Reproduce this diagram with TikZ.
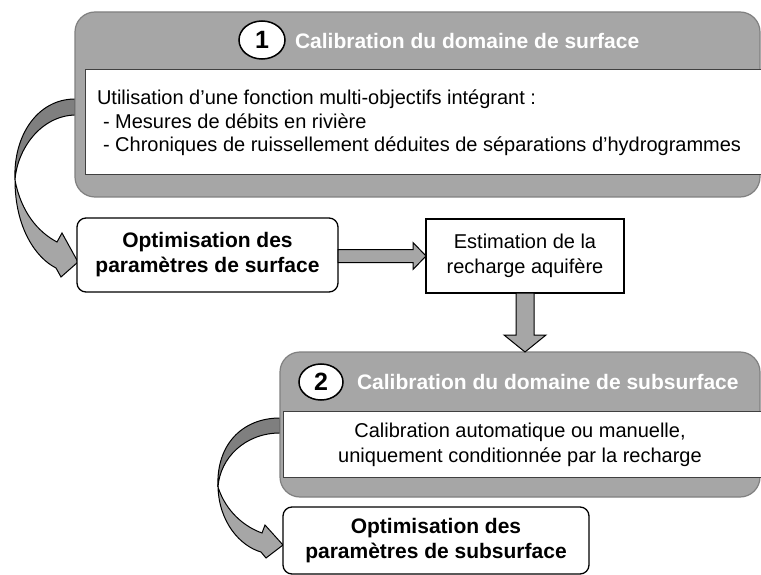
\documentclass[tikz,border=0pt]{standalone}
\usepackage{fontspec}
\setmainfont{Liberation Sans}
\usepackage{tikz}
\usetikzlibrary{calc,shapes.geometric,backgrounds}
\definecolor{boxgray}{HTML}{A6A6A6}
\definecolor{backgray}{HTML}{7F7F7F}
\definecolor{edgegray}{HTML}{808080}
\newcommand{\txtsize}{\fontsize{20}{25}\selectfont}
\newcommand{\boldsize}{\fontsize{21}{25}\selectfont}

\begin{document}
\begin{tikzpicture}[x=1pt, y=-1pt, every node/.style={inner sep=0pt, outer sep=0pt},
  calbox/.style={draw=edgegray, fill=boxgray, rounded corners=20pt, line width=1.2pt},
  inbox/.style={draw=black!75, fill=white, line width=0.8pt},
  numbox/.style={ellipse, draw, fill=white, line width=1.5pt, minimum width=46, minimum height=38, font=\bfseries\fontsize{25}{25}\selectfont},
  titlebox/.style={anchor=west, text=white, font=\bfseries\boldsize},
  stepbox/.style={draw, fill=white, line width=1.3pt, rounded corners=9pt, align=center, font=\bfseries\boldsize},
  arrowfill/.style={draw, fill=boxgray, line width=1pt, line join=miter}]
\useasboundingbox (0,0) rectangle (761,575);

% surface calibration
\node[calbox, minimum width=685, minimum height=185] (cal1) at (417.5,104.5) {};
\node[inbox, minimum width=676, minimum height=105] (in1) at (423,121.5) {};
\node[numbox] (num1) at (262,40) {1};
\node[titlebox] (title1) at (295,41) {Calibration du domaine de surface};
\node[anchor=west, align=left, font=\fontsize{20}{23.5}\selectfont] (body1) at (97,123) {Utilisation d’une fonction multi-objectifs intégrant :\\
  \hspace*{6pt}- Mesures de débits en rivière\\
  \hspace*{6pt}- Chroniques de ruissellement déduites de séparations d’hydrogrammes};

\node[stepbox, minimum width=261, minimum height=74] (opt1) at (207.5,255) {Optimisation des\\paramètres de surface};
\node[draw, fill=white, line width=1.3pt, align=center, font=\txtsize, minimum width=198, minimum height=74] (est) at (525,256) {Estimation de la\\recharge aquifère};

% subsurface calibration
\node[calbox, minimum width=480, minimum height=145] (cal2) at (520,424.5) {};
\node[inbox, minimum width=478, minimum height=66] (in2) at (522,444) {};
\node[numbox, minimum width=44, minimum height=36] (num2) at (321,382) {2};
\node[titlebox] (title2) at (357,382) {Calibration du domaine de subsurface};
\node[align=center, font=\txtsize] (body2) at (520,445) {Calibration automatique ou manuelle,\\uniquement conditionnée par la recharge};

\node[stepbox, minimum width=306, minimum height=67] (opt2) at (436,540.5) {Optimisation des\\paramètres de subsurface};

\begin{scope}[on background layer]
% curved arrow 1
\draw[arrowfill] (15,180) .. controls (15,228) and (36,258) .. (56,268) -- (61,277) -- ($(opt1.west)+(1,7)$) -- (62,233) -- (57,242) .. controls (38,232) and (21,212) .. (15,180) -- cycle;
\draw[arrowfill, fill=backgray] ($(cal1.west)+(0,-5.5)$) .. controls (38,99) and (13,135) .. (15,180) .. controls (17,150) and (40,116) .. ($(cal1.west)+(0,10.5)$) -- cycle;
% curved arrow 2
\draw[arrowfill] (218,487) .. controls (219,522) and (240,546) .. (261,552) -- (266,558) -- ($(opt2.west)+(0,4.5)$) -- (265,525) -- (262,533) .. controls (245,527) and (226,512) .. (218,487) -- cycle;
\draw[arrowfill, fill=backgray] ($(cal2.west)+(0,-6.5)$) .. controls (242,418) and (216,445) .. (218,487) .. controls (220,458) and (245,433) .. ($(cal2.west)+(0,8.5)$) -- cycle;
\end{scope}

% straight arrows
\draw[arrowfill] ($(opt1.east |- est.west)+(0,-6.5)$) -- ($(est.west)+(-13,-6.5)$) -- ($(est.west)+(-13,-13.5)$) -- (est.west) -- ($(est.west)+(-13,13.5)$) -- ($(est.west)+(-13,6.5)$) -- ($(opt1.east |- est.west)+(0,6.5)$) -- cycle;
\draw[arrowfill] ($(est.south)+(-9,0)$) -- ($(est.south |- cal2.north)+(-9,-17)$) -- ($(est.south |- cal2.north)+(-21,-17)$) -- (est.south |- cal2.north) -- ($(est.south |- cal2.north)+(21,-17)$) -- ($(est.south |- cal2.north)+(9,-17)$) -- ($(est.south)+(9,0)$) -- cycle;
\end{tikzpicture}
\end{document}
